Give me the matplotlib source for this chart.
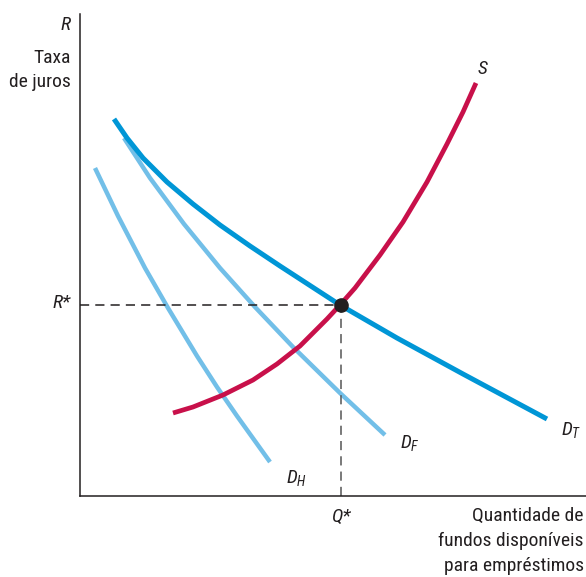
import matplotlib
matplotlib.use("Agg")
import matplotlib.pyplot as plt

fams = ['Roboto Condensed', 'Roboto', 'DejaVu Sans']
plt.rcParams['font.family'] = fams
plt.rcParams['mathtext.fontset'] = 'custom'
plt.rcParams['mathtext.it'] = 'Roboto Condensed:italic'
plt.rcParams['mathtext.rm'] = 'Roboto Condensed'

# curvas (x = quantidade, y = taxa de juros)
dt_x = [34, 47, 63, 87, 113, 140, 170, 200, 260, 317, 383, 467]
dt_y = [377, 358, 338, 314, 292, 271, 250, 230, 191, 158, 122, 77]
df_x = [44, 70, 104, 140, 175, 213, 260, 305]
df_y = [358, 318, 272, 228, 189, 149, 103, 61]
dh_x = [15, 38, 65, 88, 117, 137, 157, 190]
dh_y = [328, 280, 228, 188, 140, 109, 80, 34]
s_x = [93, 113, 143, 173, 197, 220, 247, 260, 275, 300, 323, 347, 367, 383, 396]
s_y = [83, 89, 101, 116, 132, 150, 177, 191, 208, 241, 274, 314, 352, 384, 413]
q_eq = 261
r_eq = 191

W, H = 586, 577
fig = plt.figure(figsize=(W / 100, H / 100), dpi=100)
ax = fig.add_axes([80 / W, (H - 496) / H, (W - 80) / W, (496 - 14) / H])
ax.set_xlim(0, 506)
ax.set_ylim(0, 482)
for s in ['top', 'right']:
    ax.spines[s].set_visible(False)
for s in ['left', 'bottom']:
    ax.spines[s].set_linewidth(1.1)
    ax.spines[s].set_color('#231f20')
ax.set_xticks([])
ax.set_yticks([])

light = '#72bfe8'
kw = dict(solid_capstyle='butt', solid_joinstyle='round')
ax.plot(dh_x, dh_y, color=light, lw=3.2, **kw)
ax.plot(df_x, df_y, color=light, lw=3.2, **kw)
ax.plot(dt_x, dt_y, color='#0096d6', lw=3.6, **kw)
ax.plot(s_x, s_y, color='#c8104a', lw=3.4, **kw)

ax.plot([0, q_eq], [r_eq, r_eq], color='#231f20', lw=1.1, ls=(0, (6, 4)))
ax.plot([q_eq, q_eq], [0, r_eq], color='#555555', lw=1.1, ls=(0, (6, 4)))
ax.plot([q_eq], [r_eq], 'o', color='#231f20', ms=9.5, zorder=5)

tc = '#231f20'
fs = 14
def lab(x, y, t, ha='center', **kw):
    fig.text(x / W, 1 - y / H, t, ha=ha, va='center', fontsize=fs, color=tc,
             family=fams, **kw)

lab(71, 25, 'R', ha='right', style='italic')
lab(71, 58, 'Taxa', ha='right')
lab(71, 82, 'de juros', ha='right')
lab(71, 303, 'R*', ha='right', style='italic')
lab(341, 517, 'Q*', style='italic')
lab(482, 69, 'S', style='italic')
lab(296, 478, r'$D_H$')
lab(410, 443, r'$D_F$')
lab(571, 430, r'$D_T$')
lab(584, 516, 'Quantidade de', ha='right')
lab(584, 541, 'fundos disponíveis', ha='right')
lab(584, 566, 'para empréstimos', ha='right')

fig.savefig('out.png', dpi=100)
